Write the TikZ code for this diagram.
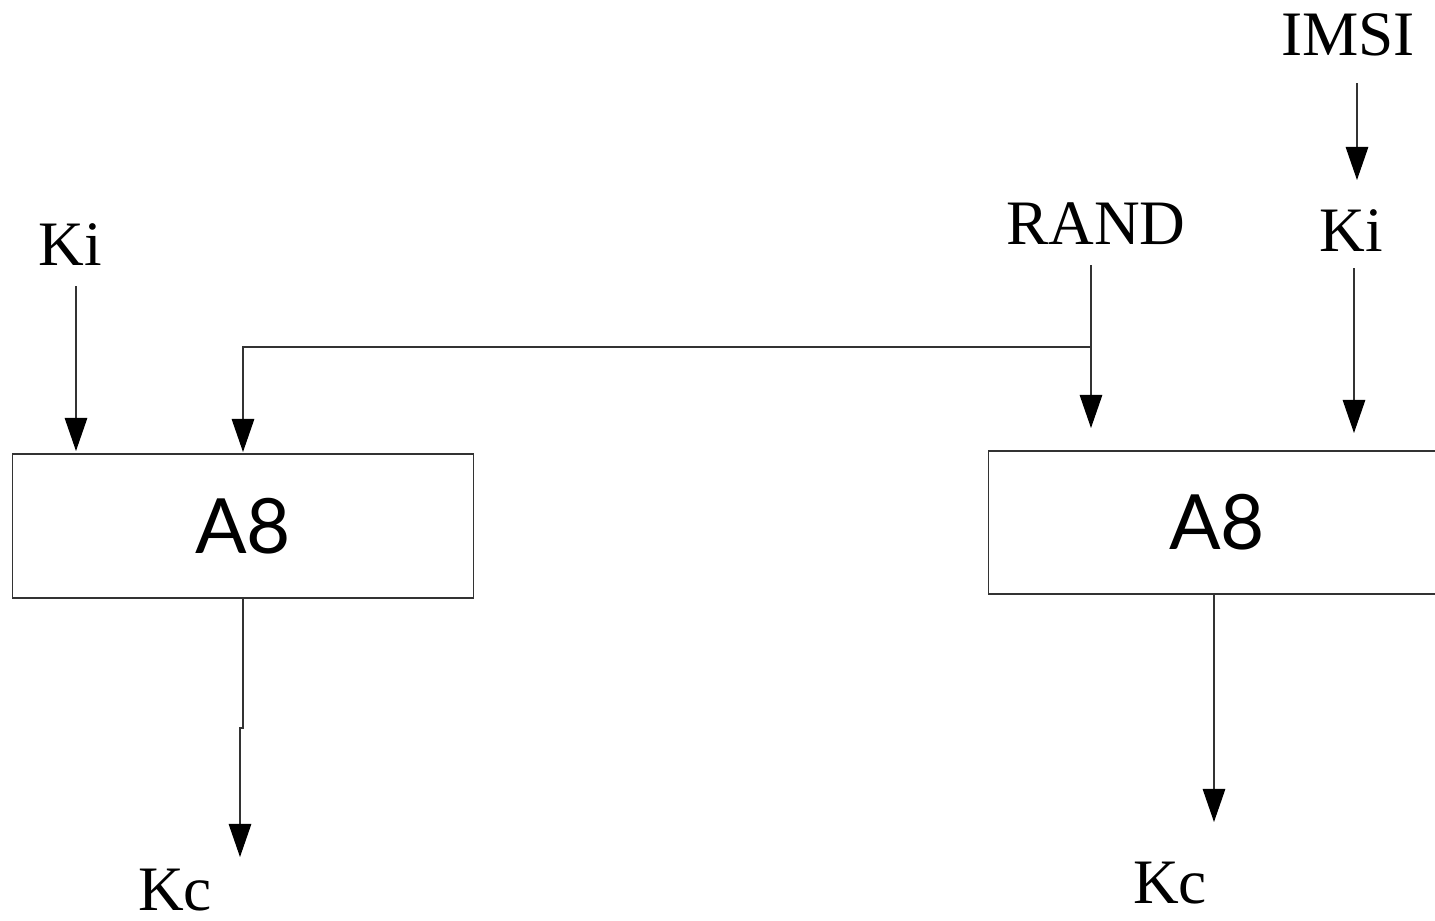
\documentclass[tikz,border=0pt]{standalone}
\usepackage{fontspec}
\setmainfont{Liberation Serif}
\newfontfamily\algfont{Lato}
\usetikzlibrary{arrows.meta}
\begin{document}
\begin{tikzpicture}[x=0.01cm, y=-0.01cm,
  lbl/.style={font=\fontsize{18}{20}\selectfont, inner sep=0pt, anchor=base},
  algbox/.style={draw=black!80, line width=0.35pt, inner sep=0pt,
    font=\algfont\fontsize{21.7}{24}\selectfont},
  wire/.style={draw=black!80, line width=0.35pt},
  arr/.style={wire, -{Triangle[length=9.4pt, width=6.4pt, color=black, fill=black]}}]
  \useasboundingbox (0,0) rectangle (1435,920);
  \clip (0,0) rectangle (1435,920);

  % A8 blocks (the right one runs past the edge)
  \node[algbox, minimum width=4.60cm, minimum height=1.44cm] (boxL) at (243,526) {A8};
  \node[algbox, minimum width=4.56cm, minimum height=1.43cm] (boxR) at (1217,522.5) {A8};

  % input and output labels
  \node[lbl] (kiL)  at (70,265)   {Ki};
  \node[lbl] (rand) at (1096,244) {RAND};
  \node[lbl] (kiR)  at (1351,251) {Ki};
  \node[lbl] (imsi) at (1348,55)  {IMSI};
  \node[lbl] (kcL)  at (175,910)  {Kc};
  \node[lbl] (kcR)  at (1170,903) {Kc};

  % connector end points
  \coordinate (kiLs)  at (76,286);
  \coordinate (kiLe)  at (76,451);
  \coordinate (rands) at (1091,265);
  \coordinate (fork)  at (1091,347);
  \coordinate (rande) at (1091,428);
  \coordinate (bend)  at (243,347);
  \coordinate (randL) at (243,452);
  \coordinate (kiRs)  at (1354,268);
  \coordinate (kiRe)  at (1354,433);
  \coordinate (imsis) at (1357,83);
  \coordinate (imsie) at (1357,180);
  \coordinate (jogA)  at (243,728);
  \coordinate (jogB)  at (240,728);
  \coordinate (kcLe)  at (240,857);
  \coordinate (kcRe)  at (1214,822);

  % inputs
  \draw[arr] (kiLs) -- (kiLe);
  \draw[arr] (rands) -- (rande);
  \draw[arr] (fork) -- (bend) -- (randL);
  \draw[arr] (kiRs) -- (kiRe);
  \draw[arr] (imsis) -- (imsie);

  % outputs
  \draw[arr] (boxL.south) -- (jogA) -- (jogB) -- (kcLe);
  \draw[arr] (boxR.south -| kcRe) -- (kcRe);
\end{tikzpicture}
\end{document}
